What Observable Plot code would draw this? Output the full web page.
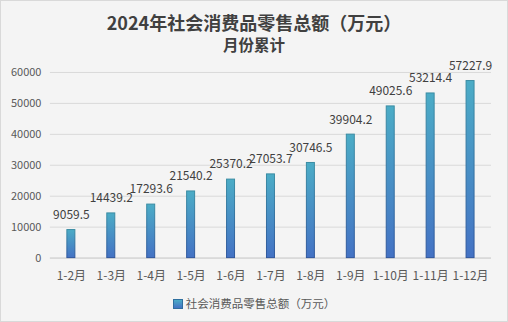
<!DOCTYPE html>
<html><head><meta charset="utf-8">
<script src="https://cdn.jsdelivr.net/npm/d3@7"></script>
<script src="https://cdn.jsdelivr.net/npm/@observablehq/plot@0.6"></script>
<style>
html,body{margin:0;padding:0;}
body{width:508px;height:322px;overflow:hidden;font-family:"Noto Sans CJK SC","Noto Sans",sans-serif;}
#frame{position:relative;width:506px;height:320px;border:1px solid #d9d9d9;background:#f4f4f4;}
#title{position:absolute;left:0;top:9px;width:506px;text-align:center;font-size:18px;font-weight:bold;color:#404040;line-height:24px;}
#subtitle{position:absolute;left:0;top:33px;width:506px;text-align:center;font-size:15.5px;font-weight:bold;color:#404040;line-height:20px;}
#chart{position:absolute;left:-1px;top:55px;}
#legend{position:absolute;left:0;top:293px;width:506px;text-align:center;font-size:11.5px;color:#595959;line-height:18px;}
#legend .sw{display:inline-block;width:8px;height:8px;border:1px solid #2f6f9f;background:linear-gradient(#4bacc6,#4472c4);vertical-align:-1px;margin-right:3px;}
</style></head>
<body>
<div id="frame">
<div id="title">2024年社会消费品零售总额（万元）</div>
<div id="subtitle">月份累计</div>
<div id="chart"></div>
<div id="legend"><span class="sw"></span>社会消费品零售总额（万元）</div>
</div>
<script>
const categories = ["1-2月","1-3月","1-4月","1-5月","1-6月","1-7月","1-8月","1-9月","1-10月","1-11月","1-12月"];
const values = [9059.5,14439.2,17293.6,21540.2,25370.2,27053.7,30746.5,39904.2,49025.6,53214.4,57227.9];
const yTicks = [0,10000,20000,30000,40000,50000,60000];
const data = categories.map((c,i)=>({cat:c, val:values[i]}));

const chart = Plot.plot({
  width: 508,
  height: 232,
  marginLeft: 50,
  marginRight: 16,
  marginTop: 16,
  marginBottom: 30,
  style: {background: "transparent", fontFamily: "'Noto Sans CJK SC', 'Noto Sans', sans-serif"},
  x: {domain: categories, paddingInner: 0.8, paddingOuter: 0.4, label: null},
  y: {domain: [0,60000], ticks: yTicks, label: null},
  marks: [
    Plot.gridY(yTicks, {stroke: "#d9d9d9", strokeOpacity: 1}),
    Plot.ruleY([0], {stroke: "#d0d0d0"}),
    Plot.barY(data, {x: "cat", y: "val", fill: "url(#barGrad)", stroke: "url(#barStroke)", strokeWidth: 1}),
    Plot.text(data, {x: "cat", y: "val", text: d => d.val.toFixed(1), dy: -15, fill: "#404040", fontSize: 12}),
    Plot.axisY(yTicks, {tickSize: 0, tickPadding: 9, fontSize: 11, fill: "#595959", tickFormat: d => String(d)}),
    Plot.axisX({tickSize: 0, tickPadding: 13, fontSize: 12, fill: "#595959"})
  ]
});

const ns = "http://www.w3.org/2000/svg";
const defs = document.createElementNS(ns, "defs");
defs.innerHTML = `
<linearGradient id="barGrad" x1="0" y1="0" x2="0" y2="1" gradientUnits="objectBoundingBox">
  <stop offset="0" stop-color="#4bacc6"/><stop offset="1" stop-color="#4472c4"/>
</linearGradient>
<linearGradient id="barStroke" x1="0" y1="0" x2="0" y2="1" gradientUnits="objectBoundingBox">
  <stop offset="0" stop-color="#3a8ca3"/><stop offset="1" stop-color="#2f569c"/>
</linearGradient>`;
chart.insertBefore(defs, chart.firstChild);
document.getElementById("chart").appendChild(chart);
</script>
</body></html>
